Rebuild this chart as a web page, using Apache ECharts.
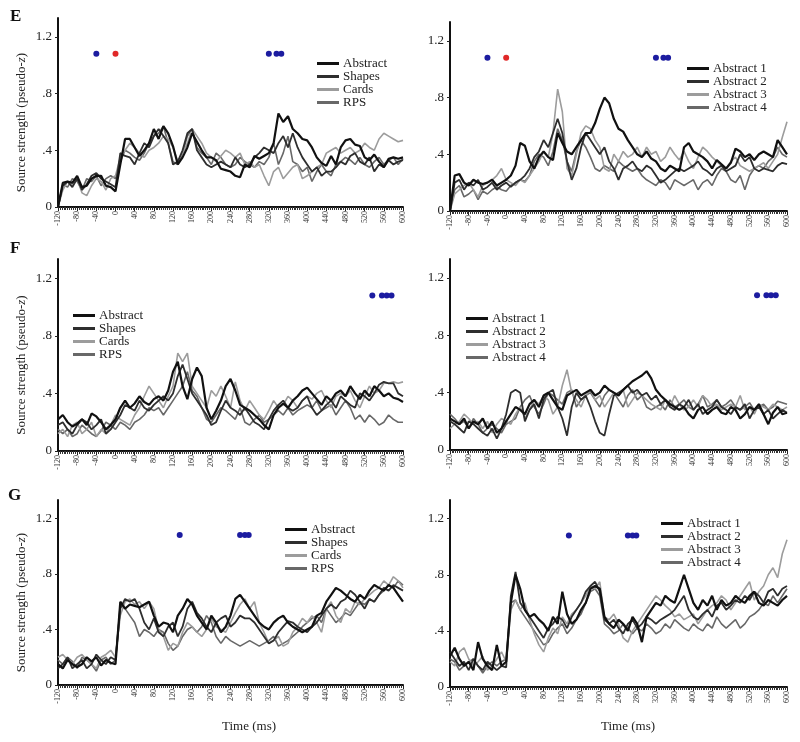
<!DOCTYPE html>
<html><head><meta charset="utf-8">
<script src="https://cdn.jsdelivr.net/npm/echarts@6/dist/echarts.min.js"></script>
<style>html,body{margin:0;padding:0;background:#fff}#c{width:800px;height:742px}</style>
</head><body><div id="c"></div>
<script>
// time axis: samples every 10 ms from -120 ms
const T0 = -120, STEP = 10;
const xTicks = [-120,-80,-40,0,40,80,120,160,200,240,280,320,360,400,440,480,520,560,600];
const yTicks = [0, 0.4, 0.8, 1.2];
const namesL = ['Abstract','Shapes','Cards','RPS'];
const namesR = ['Abstract 1','Abstract 2','Abstract 3','Abstract 4'];

// ---- Panel E, left
const E_L_abstract = [0,.17,.18,.17,.22,.14,.15,.20,.22,.22, .15,.14,.11,.30,.48,.48,.42,.36,.40,.45, .55,.48,.57,.52,.43,.30,.35,.42,.52,.46, .40,.35,.35,.33,.27,.26,.25,.22,.21,.30, .28,.36,.34,.36,.38,.45,.66,.60,.64,.55, .52,.48,.47,.42,.35,.31,.29,.36,.30,.42, .47,.48,.44,.43,.35,.33,.37,.32,.28,.34, .35,.34,.35];
const E_L_shapes = [0,.15,.18,.14,.2,.12,.16,.22,.24,.2, .18,.16,.14,.38,.36,.35,.3,.38,.45,.42, .5,.55,.5,.45,.3,.32,.4,.52,.55,.4, .35,.3,.28,.3,.32,.3,.28,.35,.3,.28, .3,.35,.38,.42,.4,.38,.45,.5,.42,.52, .42,.35,.3,.25,.28,.22,.25,.25,.28,.32, .3,.36,.38,.32,.3,.35,.25,.3,.28,.33, .3,.32,.33];
const E_L_cards = [0,.12,.18,.15,.2,.1,.08,.15,.2,.18, .12,.2,.22,.35,.4,.45,.42,.38,.35,.4, .42,.45,.5,.48,.42,.32,.38,.45,.55,.5, .45,.38,.35,.32,.36,.4,.38,.35,.38,.3, .32,.28,.3,.22,.15,.25,.28,.2,.24,.28, .3,.2,.22,.25,.28,.3,.38,.4,.42,.38, .4,.42,.38,.4,.45,.42,.4,.48,.52,.5, .48,.46,.47];
const E_L_rps = [0,.16,.14,.2,.18,.12,.2,.18,.22,.15, .2,.22,.2,.32,.4,.38,.35,.33,.38,.45, .5,.52,.57,.45,.32,.3,.38,.5,.55,.42, .38,.35,.3,.38,.35,.3,.28,.3,.35,.32, .3,.28,.32,.3,.35,.45,.3,.38,.5,.32, .3,.25,.28,.18,.25,.3,.25,.22,.3,.32, .35,.33,.3,.35,.3,.28,.32,.35,.3,.33, .35,.3,.34];

// ---- Panel E, right
const E_R_a1 = [0,.25,.26,.2,.18,.22,.2,.19,.2,.22, .18,.2,.22,.25,.32,.48,.46,.35,.3,.38, .42,.38,.36,.55,.48,.42,.4,.45,.5,.55, .55,.62,.72,.8,.76,.65,.58,.56,.5,.45, .4,.38,.42,.37,.35,.3,.28,.32,.3,.28, .45,.48,.42,.4,.38,.35,.3,.36,.33,.3, .34,.44,.42,.38,.4,.36,.4,.42,.4,.38, .5,.45,.4];
const E_R_a2 = [0,.2,.22,.15,.2,.18,.22,.15,.17,.2, .15,.18,.2,.17,.2,.22,.25,.3,.38,.42, .5,.45,.55,.65,.55,.35,.22,.3,.45,.55, .5,.45,.4,.45,.35,.3,.22,.3,.32,.35, .3,.28,.32,.3,.25,.2,.22,.25,.28,.3, .28,.3,.32,.35,.3,.28,.25,.3,.32,.28, .3,.32,.4,.35,.38,.3,.28,.3,.29,.28, .32,.34,.33];
const E_R_a3 = [0,.12,.15,.18,.2,.15,.1,.18,.2,.22, .25,.3,.22,.2,.18,.22,.2,.25,.3,.35, .42,.38,.55,.86,.7,.3,.25,.4,.55,.6, .58,.5,.45,.3,.28,.4,.35,.42,.38,.4, .45,.38,.45,.4,.42,.35,.38,.45,.4,.36, .42,.35,.3,.38,.45,.42,.38,.35,.32,.3, .35,.38,.32,.3,.28,.3,.32,.34,.3,.35, .4,.52,.63];
const E_R_a4 = [0,.15,.18,.1,.12,.15,.08,.14,.12,.15, .17,.15,.14,.18,.2,.22,.21,.25,.35,.4, .38,.32,.42,.58,.5,.35,.28,.42,.5,.45, .38,.3,.28,.32,.3,.28,.35,.32,.3,.28, .3,.25,.22,.2,.18,.22,.2,.15,.22,.2, .18,.2,.22,.15,.2,.22,.18,.25,.3,.28, .22,.2,.25,.15,.25,.3,.32,.3,.35,.38, .45,.4,.38];

// ---- Panel F, left
const F_L_abstract = [.22,.25,.2,.17,.19,.22,.18,.26,.24,.2, .15,.18,.22,.3,.35,.3,.33,.38,.34,.32, .36,.38,.35,.42,.55,.62,.45,.36,.5,.58, .52,.3,.22,.28,.35,.45,.5,.42,.32,.3, .28,.25,.22,.18,.15,.25,.3,.33,.3,.35, .38,.42,.44,.4,.36,.32,.38,.35,.4,.42, .38,.45,.4,.36,.42,.38,.45,.42,.38,.4, .37,.36,.34];
const F_L_shapes = [.18,.2,.15,.12,.18,.22,.2,.15,.18,.22, .12,.15,.2,.25,.32,.3,.28,.35,.3,.28, .32,.35,.38,.35,.4,.52,.6,.5,.4,.35, .3,.25,.18,.2,.28,.35,.3,.28,.25,.3, .25,.2,.18,.15,.22,.28,.32,.35,.3,.28, .3,.35,.38,.3,.25,.28,.32,.35,.3,.38, .35,.32,.3,.4,.38,.35,.4,.46,.48,.47, .47,.4,.38];
const F_L_cards = [.12,.15,.1,.18,.2,.12,.15,.2,.1,.15, .12,.18,.25,.22,.2,.18,.25,.3,.38,.45, .4,.35,.3,.38,.45,.68,.62,.68,.45,.4, .35,.3,.42,.38,.45,.38,.3,.48,.35,.28, .35,.3,.25,.22,.28,.35,.3,.32,.38,.35, .3,.35,.38,.36,.4,.42,.35,.3,.38,.4, .38,.42,.35,.3,.38,.45,.4,.42,.47,.47, .48,.47,.48];
const F_L_rps = [.15,.12,.15,.1,.12,.18,.15,.12,.1,.14, .2,.18,.15,.2,.18,.15,.2,.22,.25,.3, .28,.3,.25,.3,.35,.4,.45,.55,.42,.38, .3,.22,.2,.25,.3,.28,.25,.22,.3,.2, .18,.22,.25,.2,.22,.25,.28,.25,.3,.25, .28,.3,.32,.3,.35,.28,.3,.32,.25,.3, .35,.3,.22,.25,.2,.25,.22,.18,.2,.25, .22,.2,.2];

// ---- Panel F, right
const F_R_a1 = [.22,.2,.18,.22,.15,.2,.18,.22,.15,.2, .12,.15,.2,.25,.3,.28,.25,.32,.35,.3, .38,.4,.35,.3,.28,.38,.4,.42,.38,.4, .42,.38,.4,.45,.42,.4,.38,.42,.45,.48, .5,.52,.55,.5,.42,.38,.35,.32,.3,.28, .3,.25,.22,.28,.3,.25,.28,.3,.26,.25, .3,.28,.22,.25,.3,.28,.32,.25,.18,.26, .3,.25,.26];
const F_R_a2 = [.2,.18,.15,.12,.2,.18,.15,.12,.1,.15, .08,.15,.25,.4,.42,.4,.2,.28,.32,.22, .35,.4,.42,.3,.22,.1,.3,.4,.35,.38, .3,.2,.12,.1,.25,.38,.4,.42,.45,.4, .42,.38,.4,.35,.38,.32,.35,.3,.28,.32, .3,.35,.28,.32,.25,.28,.3,.35,.3,.28, .25,.3,.28,.32,.22,.28,.3,.25,.28,.22, .25,.28,.26];
const F_R_a3 = [.15,.18,.2,.25,.22,.18,.2,.15,.2,.12, .18,.22,.2,.18,.25,.3,.22,.28,.35,.32, .38,.35,.25,.3,.45,.56,.4,.35,.3,.38, .42,.35,.38,.3,.35,.4,.38,.42,.3,.35, .4,.38,.35,.32,.3,.28,.35,.3,.38,.32, .28,.3,.35,.3,.38,.35,.3,.32,.28,.3, .32,.3,.38,.28,.3,.25,.32,.3,.28,.32, .3,.28,.3];
const F_R_a4 = [.25,.22,.18,.2,.15,.22,.18,.12,.15,.18, .15,.12,.18,.2,.22,.3,.35,.38,.3,.25, .32,.4,.38,.35,.32,.4,.42,.3,.35,.38, .4,.35,.3,.38,.42,.4,.35,.3,.38,.42, .35,.38,.3,.28,.3,.32,.28,.35,.3,.32, .35,.3,.28,.32,.38,.3,.32,.35,.3,.32, .35,.3,.28,.3,.33,.28,.3,.32,.28,.3, .34,.33,.32];

// ---- Panel G, left
const G_L_abstract = [.15,.12,.18,.15,.13,.15,.2,.17,.2,.14, .18,.16,.15,.6,.55,.58,.57,.56,.58,.6, .5,.42,.45,.44,.38,.5,.55,.62,.58,.5, .45,.4,.5,.45,.38,.42,.5,.62,.65,.6, .55,.5,.45,.42,.4,.45,.48,.5,.45,.42, .4,.38,.4,.42,.5,.52,.6,.65,.7,.68, .65,.62,.6,.65,.62,.68,.72,.7,.68,.72, .7,.65,.6];
const G_L_shapes = [.12,.15,.2,.12,.15,.18,.12,.15,.22,.18, .15,.2,.18,.55,.62,.6,.62,.55,.45,.4, .48,.38,.35,.42,.45,.35,.42,.55,.6,.52, .48,.42,.38,.45,.48,.5,.42,.45,.5,.48, .48,.45,.4,.35,.3,.32,.38,.42,.46,.45, .42,.4,.38,.42,.45,.5,.55,.58,.55,.6, .62,.68,.65,.6,.55,.62,.6,.65,.7,.68, .72,.7,.68];
const G_L_cards = [.2,.22,.18,.15,.2,.22,.18,.15,.12,.2, .22,.25,.2,.5,.6,.62,.58,.6,.55,.6, .55,.4,.35,.25,.3,.28,.38,.45,.42,.38, .35,.4,.48,.42,.4,.38,.45,.52,.58,.62, .55,.6,.45,.38,.3,.32,.35,.28,.3,.38, .42,.48,.45,.5,.45,.38,.55,.6,.5,.45, .55,.52,.6,.58,.62,.65,.68,.7,.75,.72, .78,.75,.7];
const G_L_rps = [.18,.15,.2,.17,.12,.2,.18,.15,.1,.18, .2,.15,.18,.58,.55,.5,.45,.35,.4,.38, .35,.4,.38,.3,.25,.28,.35,.4,.42,.38, .42,.5,.45,.35,.3,.35,.32,.3,.28,.3, .32,.3,.28,.3,.32,.35,.28,.3,.32,.35, .38,.42,.45,.48,.5,.45,.55,.5,.45,.48, .52,.5,.55,.6,.58,.62,.6,.65,.68,.72, .7,.75,.72];

// ---- Panel G, right
const G_R_a1 = [.22,.28,.2,.15,.18,.12,.32,.2,.15,.12, .3,.15,.18,.6,.8,.7,.55,.5,.52,.48, .45,.4,.5,.45,.68,.52,.45,.48,.55,.6, .7,.72,.7,.5,.45,.42,.48,.45,.4,.5, .45,.32,.5,.55,.6,.58,.65,.62,.6,.7, .8,.7,.6,.55,.62,.58,.65,.55,.62,.58, .6,.65,.62,.6,.65,.68,.6,.58,.62,.6, .58,.62,.65];
const G_R_a2 = [.25,.2,.15,.18,.12,.2,.15,.12,.18,.15, .12,.15,.14,.65,.82,.6,.55,.5,.45,.4, .35,.42,.45,.5,.48,.42,.5,.55,.6,.68, .72,.75,.68,.48,.45,.48,.42,.38,.45,.48, .42,.45,.5,.48,.45,.48,.5,.52,.55,.6, .65,.55,.5,.48,.52,.55,.5,.58,.6,.55, .58,.62,.6,.65,.62,.68,.65,.6,.68,.7, .65,.7,.72];
const G_R_a3 = [.18,.15,.25,.28,.2,.15,.18,.22,.12,.15, .2,.25,.18,.55,.62,.55,.6,.48,.38,.3, .25,.35,.42,.38,.5,.45,.52,.55,.6,.65, .72,.7,.75,.5,.48,.52,.45,.35,.32,.4, .45,.5,.55,.6,.65,.62,.58,.55,.5,.52, .48,.5,.52,.45,.5,.55,.58,.6,.65,.62, .55,.6,.65,.7,.75,.62,.68,.72,.8,.85, .78,.95,1.05];
const G_R_a4 = [.2,.18,.12,.15,.18,.2,.15,.1,.15,.18, .15,.18,.2,.6,.62,.55,.5,.45,.4,.35, .3,.32,.38,.42,.45,.38,.42,.48,.52,.6, .68,.7,.65,.45,.42,.38,.4,.45,.42,.38, .42,.4,.45,.42,.38,.4,.45,.42,.48,.45, .42,.4,.45,.42,.4,.45,.42,.5,.45,.42, .45,.48,.42,.45,.5,.52,.55,.6,.58,.65, .6,.65,.7];

// significance markers (time in ms), drawn at a fixed height
const DOT_Y = 1.08;
const E_blue = [-40, 320, 336, 346];
const E_red = [0];
const F_blue = [536, 556, 566, 576];
const G_blue = [134, 260, 270, 278];

const FONT = 'Liberation Serif';
const lineColors = ['#111111', '#2e2e2e', '#9c9c9c', '#686868'];
const lineWidths = [2.2, 1.8, 1.6, 1.6];

const panels = [
  {grid:{left:58, top:18, width:345, height:189}, names:namesL, data:[E_L_abstract,E_L_shapes,E_L_cards,E_L_rps], blue:E_blue, red:E_red, legend:{left:317, top:57}, yname:true, letter:['E',10,8]},
  {grid:{left:450, top:22, width:337, height:189}, names:namesR, data:[E_R_a1,E_R_a2,E_R_a3,E_R_a4], blue:E_blue, red:E_red, legend:{left:687, top:62}},
  {grid:{left:58, top:259, width:345, height:192}, names:namesL, data:[F_L_abstract,F_L_shapes,F_L_cards,F_L_rps], blue:F_blue, red:[], legend:{left:73, top:309}, yname:true, letter:['F',10,240]},
  {grid:{left:450, top:259, width:337, height:191}, names:namesR, data:[F_R_a1,F_R_a2,F_R_a3,F_R_a4], blue:F_blue, red:[], legend:{left:466, top:312}},
  {grid:{left:58, top:500, width:345, height:185}, names:namesL, data:[G_L_abstract,G_L_shapes,G_L_cards,G_L_rps], blue:G_blue, red:[], legend:{left:285, top:523}, yname:true, letter:['G',8,487]},
  {grid:{left:450, top:500, width:337, height:187}, names:namesR, data:[G_R_a1,G_R_a2,G_R_a3,G_R_a4], blue:G_blue, red:[], legend:{left:661, top:517}}
];

function fmtY(v){ if (v === 0) return '0'; const s = String(Math.round(v*10)/10); return s.startsWith('0.') ? s.slice(1) : s; }

const grid=[], xAxis=[], yAxis=[], series=[], legend=[], graphic=[];
panels.forEach((p, k) => {
  grid.push(Object.assign({containLabel:false}, p.grid));
  xAxis.push({
    type:'value', gridIndex:k, min:-120, max:600, interval:40,
    axisLine:{onZero:false, lineStyle:{color:'#111', width:2}},
    axisTick:{show:true, length:4, lineStyle:{color:'#222', width:1}},
    minorTick:{show:true, splitNumber:10, length:3, lineStyle:{color:'#333', width:1}},
    splitLine:{show:false},
    axisLabel:{rotate:90, fontSize:8, color:'#333', fontFamily:FONT, margin:4,
      customValues: xTicks}
  });
  const y = {
    type:'value', gridIndex:k, min:0, max:1.333,
    axisLine:{show:true, onZero:false, lineStyle:{color:'#111', width:2}},
    axisTick:{show:true, length:3, customValues:yTicks, lineStyle:{color:'#222'}},
    splitLine:{show:false},
    axisLabel:{customValues:yTicks, formatter:fmtY, fontSize:13, color:'#222', fontFamily:FONT, margin:6}
  };
  if (p.yname) {
    Object.assign(y, {
      name:'{a|Source strength (pseudo-}{b|z}{a|)}', nameLocation:'middle', nameGap:30,
      nameTextStyle:{padding:[0,0,0,-20], rich:{a:{fontFamily:FONT, fontSize:13, color:'#222'}, b:{fontFamily:FONT, fontSize:13, fontStyle:'italic', color:'#222'}}}
    });
  }
  yAxis.push(y);
  p.data.forEach((arr, j) => {
    series.push({
      type:'line', name:p.names[j], xAxisIndex:k, yAxisIndex:k,
      data: arr.map((v, i) => [T0 + i*STEP, v]),
      showSymbol:false, symbol:'none', smooth:false, z: 10 - j,
      lineStyle:{color:lineColors[j], width:lineWidths[j]}, itemStyle:{color:lineColors[j]},
      animation:false
    });
  });
  series.push({type:'scatter', xAxisIndex:k, yAxisIndex:k, data:p.blue.map(t => [t, DOT_Y]), symbolSize:6, itemStyle:{color:'#1c1ca0', opacity:1}, z:20, animation:false});
  if (p.red.length) series.push({type:'scatter', xAxisIndex:k, yAxisIndex:k, data:p.red.map(t => [t, DOT_Y]), symbolSize:6, itemStyle:{color:'#e02828', opacity:1}, z:20, animation:false});
  legend.push({
    left:p.legend.left, top:p.legend.top, orient:'vertical', padding:0, itemGap:0,
    itemWidth:22, itemHeight:3, icon:'rect', data:p.names, selectedMode:false,
    textStyle:{fontFamily:FONT, fontSize:13, color:'#222', lineHeight:12, padding:[0,0,0,-1]}
  });
  if (p.letter) graphic.push({type:'text', left:p.letter[1], top:p.letter[2], style:{text:p.letter[0], font:'bold 17px "Liberation Serif"', fill:'#111'}});
});
graphic.push({type:'text', left:222, top:720, style:{text:'Time (ms)', font:'13px "Liberation Serif"', fill:'#222'}});
graphic.push({type:'text', left:601, top:720, style:{text:'Time (ms)', font:'13px "Liberation Serif"', fill:'#222'}});

const chart = echarts.init(document.getElementById('c'), null, {renderer:'canvas'});
chart.setOption({backgroundColor:'#fff', animation:false, grid, xAxis, yAxis, series, legend, graphic});
</script></body></html>
